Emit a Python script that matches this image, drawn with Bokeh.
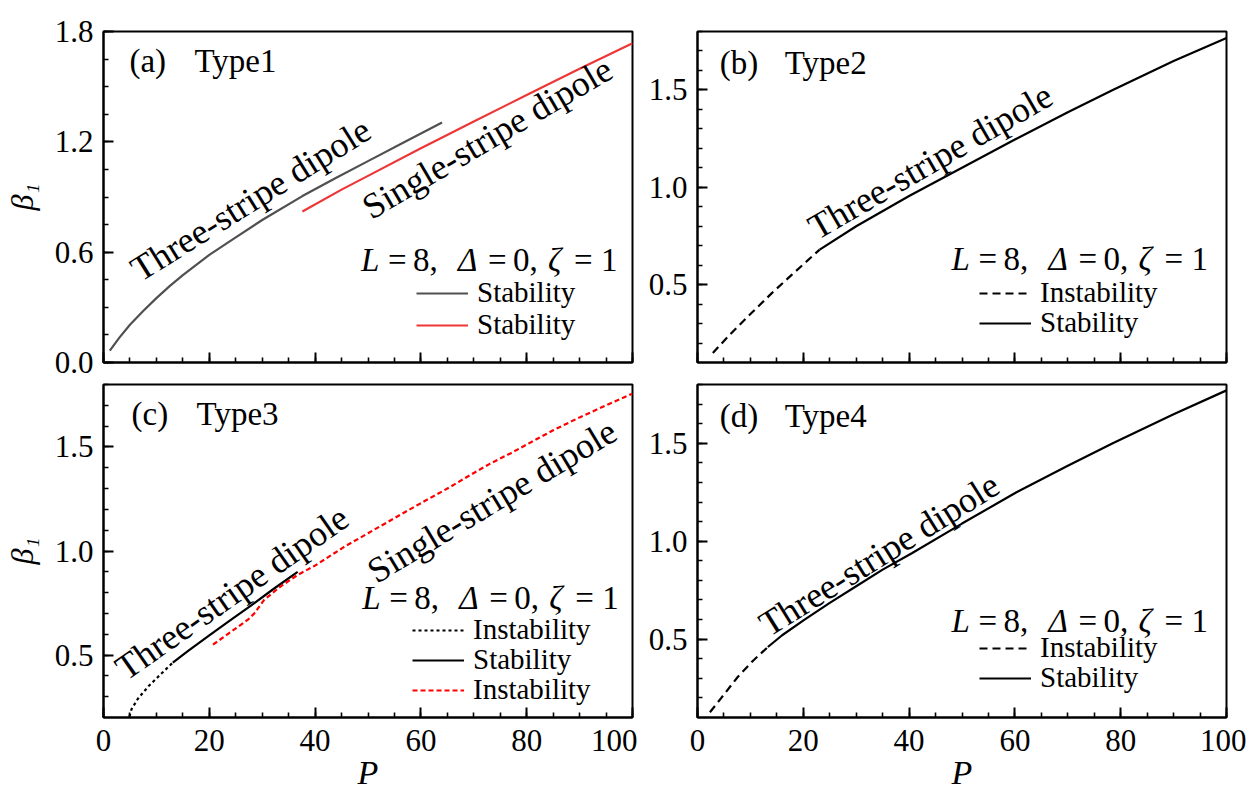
from bokeh.plotting import figure
from bokeh.models import (Label, Legend, LegendItem, SingleIntervalTicker,
                          NumeralTickFormatter, Range1d)
from bokeh.layouts import column, row
from bokeh.embed import file_html
from bokeh.resources import INLINE

FONT = "Liberation Serif"

# ---------------- data ----------------
# (a) Type1
a_three_P = [1.2, 3, 5, 7.5, 10, 12.5, 15, 20, 25, 30, 37.6, 44, 50, 57, 64]
a_three_b = [0.065, 0.135, 0.205, 0.28, 0.35, 0.415, 0.475, 0.585, 0.68, 0.775, 0.905, 1.005, 1.095, 1.2, 1.305]
a_single_P = [37.6, 45, 50, 60, 70, 80, 90, 100]
a_single_b = [0.821, 0.94, 1.015, 1.165, 1.31, 1.455, 1.597, 1.736]

# (b) Type2
b_unst_P = [2.9, 6, 10.2, 14, 17.8, 23.1]
b_unst_b = [0.149, 0.24, 0.354, 0.455, 0.55, 0.68]
b_st_P = [23.1, 30, 40, 50, 60, 70, 78.5, 90, 100]
b_st_b = [0.68, 0.80, 0.955, 1.10, 1.245, 1.385, 1.50, 1.648, 1.767]

# (c) Type3
c_unst_P = [4.9, 5.3, 6.5, 8.5, 10.5, 13.1]
c_unst_b = [0.205, 0.24, 0.29, 0.35, 0.40, 0.464]
c_st_P = [13.1, 16, 20, 24, 28, 32, 36.7]
c_st_b = [0.464, 0.52, 0.595, 0.668, 0.74, 0.815, 0.90]
c_single_P = [20.7, 24, 27.3, 28.5, 30.4, 33.5, 36.7, 40, 45.5, 50, 54.3, 60, 65, 70, 73.1, 77, 80.9, 85, 90, 95, 100]
c_single_b = [0.55, 0.61, 0.67, 0.70, 0.766, 0.83, 0.885, 0.93, 1.02, 1.085, 1.148, 1.23, 1.30, 1.375, 1.42, 1.47, 1.524, 1.58, 1.642, 1.70, 1.756]

# (d) Type4
d_unst_P = [2.35, 4.5, 7.6, 10.5, 13.3]
d_unst_b = [0.127, 0.20, 0.307, 0.39, 0.46]
d_st_P = [13.3, 16, 20.1, 25, 30, 35, 40.6, 50, 60.3, 70, 78.5, 90, 100]
d_st_b = [0.46, 0.52, 0.597, 0.685, 0.77, 0.855, 0.94, 1.09, 1.25, 1.385, 1.50, 1.648, 1.77]

x_major_ticks = [0, 20, 40, 60, 80, 100]

GRAY = "#505050"
RED_A = "#ee3636"
RED_C = "#ff0000"


def make_fig(width, height, left, right, top, bottom, y0, y1, y_int, y_minor,
             show_xlabels, xtitle, ytitle):
    p = figure(width=width, height=height, x_range=Range1d(0, 100), y_range=Range1d(y0, y1),
               output_backend="svg", toolbar_location=None,
               min_border_left=left, min_border_right=right,
               min_border_top=top, min_border_bottom=bottom)
    p.xgrid.visible = False
    p.ygrid.visible = False
    p.outline_line_color = "black"
    p.outline_line_width = 2
    p.outline_line_alpha = 1
    p.background_fill_color = "white"
    p.border_fill_color = "white"
    xa = p.xaxis[0]
    ya = p.yaxis[0]
    xa.ticker = SingleIntervalTicker(interval=20, num_minor_ticks=4)
    ya.ticker = SingleIntervalTicker(interval=y_int, num_minor_ticks=y_minor)
    for ax in (xa, ya):
        ax.axis_line_width = 2
        ax.axis_line_color = "black"
        ax.major_tick_in = 10
        ax.major_tick_out = 0
        ax.minor_tick_in = 5
        ax.minor_tick_out = 0
        ax.major_tick_line_width = 2
        ax.minor_tick_line_width = 1.6
        ax.major_tick_line_color = "black"
        ax.minor_tick_line_color = "black"
        ax.major_label_text_font = FONT
        ax.major_label_text_font_size = "31px"
        ax.major_label_text_color = "black"
    xa.major_label_standoff = 12
    ya.major_label_standoff = 10
    ya.formatter = NumeralTickFormatter(format="0.0")
    if not show_xlabels:
        xa.major_label_overrides = {v: "" for v in x_major_ticks}
        xa.major_label_text_font_size = "1px"
        xa.major_label_standoff = 0
    if xtitle:
        xa.axis_label = xtitle
        xa.axis_label_text_font = FONT
        xa.axis_label_text_font_style = "italic"
        xa.axis_label_text_font_size = "34px"
        xa.axis_label_text_color = "black"
        xa.axis_label_standoff = 0
    if ytitle:
        ya.axis_label = ytitle
        ya.axis_label_text_font = FONT
        ya.axis_label_text_font_style = "italic"
        ya.axis_label_text_font_size = "32px"
        ya.axis_label_text_color = "black"
        ya.axis_label_standoff = 12
    return p


def add_text(p, x, y, text, angle=0, size="36px", baseline="alphabetic", x_offset=0,
             style="normal", align="left"):
    p.add_layout(Label(x=x, y=y, text=text, angle=angle, angle_units="deg",
                       text_font=FONT, text_font_size=size, text_font_style=style,
                       text_color="black", text_align=align, text_baseline=baseline,
                       x_offset=x_offset))


def add_panel_label(p, x, y, tag, name):
    add_text(p, x, y, tag, size="33px", baseline="middle")
    add_text(p, x, y, name, size="33px", baseline="middle", x_offset=65)


def add_params(p, x, y):
    pieces = [("L", 0, "italic"), ("=", 27, "normal"), ("8,", 52, "normal"),
              ("Δ", 97, "italic"), ("=", 127, "normal"), ("0,", 152, "normal"),
              ("ζ", 187, "italic"), ("=", 213, "normal"), ("1", 240, "normal")]
    for t, off, st in pieces:
        add_text(p, x, y, t, size="33px", baseline="middle", x_offset=off, style=st)


def add_legend_rows(p, items, vx, vys):
    # one legend per row so that every row sits where the reference has it
    for (lab, r), vy in zip(items, vys):
        leg = Legend(items=[LegendItem(label=lab, renderers=[r])],
                     location=(vx, vy), orientation="vertical",
                     label_text_font=FONT, label_text_font_size="29px", label_text_color="black",
                     glyph_width=52, glyph_height=20, label_standoff=9, spacing=0,
                     label_height=20, padding=0, margin=0,
                     border_line_alpha=0, background_fill_alpha=0)
        p.add_layout(leg)


# ---------------- (a) ----------------
pa = make_fig(637, 382, 102, 5, 31, 20, 0.0, 1.8, 0.6, 4, False, None, "β₁")
ra1 = pa.line(a_three_P, a_three_b, line_color=GRAY, line_width=2.2)
ra2 = pa.line(a_single_P, a_single_b, line_color=RED_A, line_width=2.2)
add_panel_label(pa, 4.9, 1.64, "(a)", "Type1")
add_text(pa, 5.8, 0.49, "Three-stripe dipole", angle=32)
add_text(pa, 49.5, 0.83, "Single-stripe dipole", angle=30.5)
add_params(pa, 48.7, 0.555)
add_legend_rows(pa, [("Stability", ra1), ("Stability", ra2)], 313, [53, 21])

# ---------------- (b) ----------------
pb = make_fig(609, 382, 60, 20, 31, 20, 0.1, 1.8, 0.5, 5, False, None, None)
rb1 = pb.line(b_unst_P, b_unst_b, line_color="black", line_width=2.2, line_dash="8 5")
rb2 = pb.line(b_st_P, b_st_b, line_color="black", line_width=2.2)
add_panel_label(pb, 4.2, 1.64, "(b)", "Type2")
add_text(pb, 21.5, 0.78, "Three-stripe dipole", angle=30)
add_params(pb, 48.0, 0.634)
add_legend_rows(pb, [("Instability", rb1), ("Stability", rb2)], 282, [53, 23])

# ---------------- (c) ----------------
pc = make_fig(637, 415, 102, 5, 2, 80, 0.2, 1.8, 0.5, 5, True, "P", "β₁")
rc1 = pc.line(c_unst_P, c_unst_b, line_color="black", line_width=2.2, line_dash="3 3")
rc2 = pc.line(c_st_P, c_st_b, line_color="black", line_width=2.2)
rc3 = pc.line(c_single_P, c_single_b, line_color=RED_C, line_width=2.2, line_dash="5 3")
add_panel_label(pc, 5.3, 1.66, "(c)", "Type3")
add_text(pc, 3.0, 0.42, "Three-stripe dipole", angle=35)
add_text(pc, 50.5, 0.89, "Single-stripe dipole", angle=31)
add_params(pc, 48.9, 0.772)
add_legend_rows(pc, [("Instability", rc1), ("Stability", rc2), ("Instability", rc3)], 309, [71, 41, 11])

# ---------------- (d) ----------------
pd_ = make_fig(609, 415, 60, 20, 2, 80, 0.1, 1.8, 0.5, 5, True, "P", None)
rd1 = pd_.line(d_unst_P, d_unst_b, line_color="black", line_width=2.2, line_dash="8 5")
rd2 = pd_.line(d_st_P, d_st_b, line_color="black", line_width=2.2)
add_panel_label(pd_, 4.2, 1.64, "(d)", "Type4")
add_text(pd_, 12.3, 0.56, "Three-stripe dipole", angle=32)
add_params(pd_, 48.0, 0.595)
add_legend_rows(pd_, [("Instability", rd1), ("Stability", rd2)], 282, [53, 23])

layout = column(row(pa, pb), row(pc, pd_))
open("out.html", "w").write(file_html(layout, INLINE))
